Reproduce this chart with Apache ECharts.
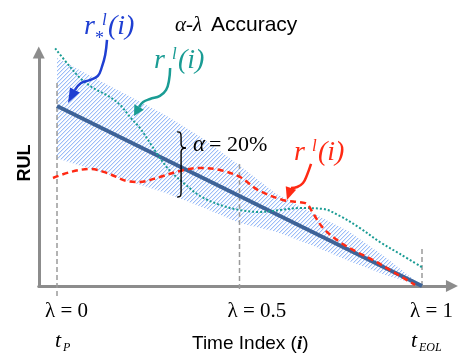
<!DOCTYPE html>
<html><head><meta charset="utf-8">
<script src="https://cdn.jsdelivr.net/npm/echarts@6/dist/echarts.min.js"></script>
<style>html,body{margin:0;padding:0;background:#fff}#c{width:458px;height:358px}</style>
</head><body><div id="c"></div>
<script>
// ---------- data (x = time index i, lambda = i/100; y = RUL) ----------
const bandX      = [0, 10, 20, 30, 40, 50, 60, 70, 80, 90, 100];
const truthRUL   = [100, 90, 80, 70, 60, 50, 40, 30, 20, 10, 0];
const bandUpper  = [126.7, 115.9, 105.3, 94.6, 82, 67, 51.3, 40.5, 30.3, 16, 0];
const bandLower  = [71, 64.5, 58, 51.5, 43.6, 35, 30.2, 22.5, 13.9, 6.1, 0];
const redCurve = [[-1.1,60],[3.6,63.3],[9,65],[13.7,62.8],[19.2,58.3],[22.7,57.8],[28.2,60.6],[33.7,63.9],[39.2,65.6],[44.7,64.4],[50.1,60.6],[55.1,53.3],[61.9,47.8],[66.5,46.5],[68.5,45.5],[70.1,40.6],[72.9,32.2],[77.5,24.4],[82.2,18.9],[86.6,14.4],[91.2,8.9],[95.9,3.3],[98.1,0.6]];
const tealCurve = [[-0.5,132],[3.6,121.7],[6.3,115.6],[9.9,110],[13.7,106],[17.3,100.6],[20,93.9],[22.7,87.8],[25.5,79.4],[28.2,71.1],[31,63.9],[35,56.7],[39.2,50],[44.7,45],[50.1,42.2],[55.6,41.1],[61.1,42.2],[66.6,43.3],[72.9,42.8],[77.5,38.9],[83,32.2],[88.5,24.4],[94,17.8],[100.3,10]];
const lambdaTicks  = [0, 50, 100];
const lambdaLabels = ['λ = 0', 'λ = 0.5', 'λ = 1'];
const timeSubs     = ['P', null, 'EOL'];
const guideTops    = [113, 69, 22];
const guideBottoms = [-5.5, -1.7, 0];
const alphaLabel   = '= 20%';

// annotation paths (data coordinates)
const blueArrow = [[13.7,136.7],[13.2,128.3],[12.3,121.7],[11.2,116.7],[9.0,114.4],[6.6,112.8],[4.9,108.9],[3.0,101.7]];
const tealArrow = [[31,121.1],[30.7,114.4],[29.9,108.9],[28.2,105.6],[25.5,103.9],[23.6,102.2],[22.5,99.4],[21.1,94.4]];
const redArrow  = [[69.6,67.8],[68.5,61.7],[67.4,57.2],[65.8,55],[64.1,54.4],[63.0,47.8]];
const braceTop = [32.9, 85.6], braceBottom = [32.9, 49.4], braceTip = [35.3, 76.7];

// ---------- styles ----------
const C_TRUTH = '#3e6398', C_RED = '#ff2a14', C_TEAL = '#1a9c94', C_BLUE = '#1f3fd2';
const C_AXIS = '#8c8c8c', C_GUIDE = '#9a9a9a';
const SERIF = '"Liberation Serif","DejaVu Serif",serif';
const SANS = '"Liberation Sans",Arial,sans-serif';

// hatch tile: "/" diagonal, 4px period, drawn pixel by pixel
const pat = document.createElement('canvas');
pat.width = 4; pat.height = 4;
(function(){
  const c = pat.getContext('2d');
  c.fillStyle = '#ffffff'; c.fillRect(0,0,4,4);
  for (let k = 0; k < 4; k++) {
    c.fillStyle = '#9bbdf7'; c.fillRect(3-k, k, 1, 1);
    c.fillStyle = '#e0eafd'; c.fillRect((4-k)%4, k, 1, 1);
  }
})();

const chart = echarts.init(document.getElementById('c'), null, {renderer:'canvas'});
const xMin = -5, xMax = 108.2, yMax = 129.7;
const gridLeft = 38.75, gridBottom = 72;
const pxPerX = 3.65, pxPerY = 1.8;
const option = {
  animation: false,
  backgroundColor: '#fff',
  grid: {left: gridLeft, right: 458 - (gridLeft + pxPerX*(xMax-xMin)), top: 358 - gridBottom - pxPerY*yMax, bottom: gridBottom, containLabel: false},
  xAxis: {type:'value', min:xMin, max:xMax,
    axisLine:{show:true, onZero:false, lineStyle:{color:C_AXIS, width:3}, symbol:['none','triangle'], symbolSize:[12,12]},
    axisTick:{show:false}, axisLabel:{show:false}, splitLine:{show:false}},
  yAxis: {type:'value', min:0, max:yMax,
    axisLine:{show:true, onZero:false, lineStyle:{color:C_AXIS, width:3}, symbol:['none','triangle'], symbolSize:[12,12]},
    axisTick:{show:false}, axisLabel:{show:false}, splitLine:{show:false}},
  series: [
    {name:'band', type:'custom', silent:true, z:1, clip:false,
     data: bandX.map((x,k)=>[x, bandLower[k], bandUpper[k]]),
     encode:{x:0, y:[1,2]},
     renderItem: function(params, api){
       if (params.dataIndex !== 0) return null;
       const up = bandX.map((x,k)=>api.coord([x, bandUpper[k]]));
       const lo = bandX.map((x,k)=>api.coord([x, bandLower[k]])).reverse();
       return {type:'polygon', shape:{points: up.concat(lo)}, style:{fill:{image:pat, repeat:'repeat'}, stroke:null}};
     }},
    ...lambdaTicks.map((t,k)=>({type:'line', symbol:'none', silent:true, clip:false, z:2,
      lineStyle:{color:C_GUIDE, width:1.5, type:[5,3]},
      data:[[t, guideBottoms[k]],[t, guideTops[k]]]})),
    {name:'truth', type:'line', symbol:'none', z:3, lineStyle:{color:C_TRUTH, width:4},
     data: bandX.map((x,k)=>[x, truthRUL[k]])},
    {name:'teal', type:'line', symbol:'none', smooth:0.35, clip:false, z:4,
     lineStyle:{color:C_TEAL, width:2, type:[2,2]}, data: tealCurve},
    {name:'red', type:'line', symbol:'none', smooth:0.35, clip:false, z:5,
     lineStyle:{color:C_RED, width:2.5, type:[6,4]}, data: redCurve}
  ]
};
chart.setOption(option);

const P = d => chart.convertToPixel({xAxisIndex:0, yAxisIndex:0}, d);
function txt(text, x, y, font, fill, extra){
  return {type:'text', z:100, style:Object.assign({text, x, y, font, fill: fill||'#000', align:'left', verticalAlign:'middle'}, extra||{})};
}
function arrow(path, color, width, headW){
  const pts = path.map(P);
  const tip = pts[pts.length-1], prev = pts[pts.length-2];
  const dx = tip[0]-prev[0], dy = tip[1]-prev[1], L = Math.hypot(dx,dy);
  const ux = dx/L, uy = dy/L, nx = -uy, ny = ux;
  const base = [tip[0]-ux*L, tip[1]-uy*L];
  return [
    {type:'polyline', z:90, shape:{points: pts.slice(0,-1), smooth:0.4}, style:{stroke:color, lineWidth:width, fill:null}},
    {type:'polygon', z:90, shape:{points:[tip,[base[0]+nx*headW, base[1]+ny*headW],[base[0]-nx*headW, base[1]-ny*headW]]}, style:{fill:color}}
  ];
}
const g = [];
// title
g.push(txt('α-λ', 175, 25, 'italic 21px '+SERIF));
g.push(txt('Accuracy', 211, 25, '21px '+SANS));
// y name
g.push({type:'text', z:100, x:25.5, y:163, rotation:Math.PI/2,
  style:{text:'RUL', x:0, y:0, font:'bold 18px '+SANS, fill:'#000', align:'center', verticalAlign:'middle'}});
// x tick labels
lambdaTicks.forEach((t,k)=>{
  const px = P([t,0])[0];
  g.push(txt(lambdaLabels[k], px-12, 311, '21px '+SERIF));
  if (timeSubs[k]) {
    const tx = k===0 ? px-2 : px-11;
    g.push(txt('t', tx, 341, 'italic 22px '+SERIF));
    g.push(txt(timeSubs[k], tx+8, 348, 'italic 12px '+SERIF));
  }
});
g.push({type:'text', z:100, style:{text:'Time Index ({b|i})', x:192, y:344, font:'19px '+SANS, fill:'#000', align:'left', verticalAlign:'middle',
  rich:{b:{fontFamily:SERIF, fontWeight:'bold', fontStyle:'italic', fontSize:19}}}});
// formula annotations
function formula(x, yMid, color, star){
  g.push(txt('r', x, yMid, 'italic 28px '+SERIF, color));
  g.push(txt('l', x+18, yMid-6, 'italic 17px '+SERIF, color));
  if (star) g.push(txt('*', x+11, yMid+12, '18px '+SERIF, color));
  g.push(txt('(i)', x+24, yMid, 'italic 28px '+SERIF, color));
}
formula(84, 27, C_BLUE, true);
formula(154, 61, C_TEAL, false);
formula(294, 153, C_RED, false);
g.push(...arrow(blueArrow, C_BLUE, 2.5, 5.5));
g.push(...arrow(tealArrow, C_TEAL, 2.5, 5.5));
g.push(...arrow(redArrow, C_RED, 2.5, 5.5));
// brace
(function(){
  const t = P(braceTop), b = P(braceBottom), m = P(braceTip);
  const bx = t[0]+4;
  const st = {stroke:'#000', lineWidth:1.4, fill:null};
  const bz = (x1,y1,c1x,c1y,c2x,c2y,x2,y2)=>({type:'bezierCurve', z:90, shape:{x1,y1,x2,y2,cpx1:c1x,cpy1:c1y,cpx2:c2x,cpy2:c2y}, style:st});
  const ln = (x1,y1,x2,y2)=>({type:'line', z:90, shape:{x1,y1,x2,y2}, style:st});
  g.push(bz(t[0],t[1], t[0]+4,t[1], bx,t[1]+1, bx,t[1]+6));
  g.push(ln(bx,t[1]+6, bx,m[1]-4));
  g.push(bz(bx,m[1]-4, bx,m[1]-1, bx+2,m[1], m[0],m[1]));
  g.push(bz(m[0],m[1], bx+2,m[1], bx,m[1]+1, bx,m[1]+4));
  g.push(ln(bx,m[1]+4, bx,b[1]-6));
  g.push(bz(bx,b[1]-6, bx,b[1]-1, t[0]+4,b[1], t[0],b[1]));
})();
g.push(txt('α', 193, 145, 'italic 23px '+SERIF));
g.push(txt(alphaLabel, 209, 145, '22px '+SERIF));
chart.setOption({graphic: g});
</script></body></html>
